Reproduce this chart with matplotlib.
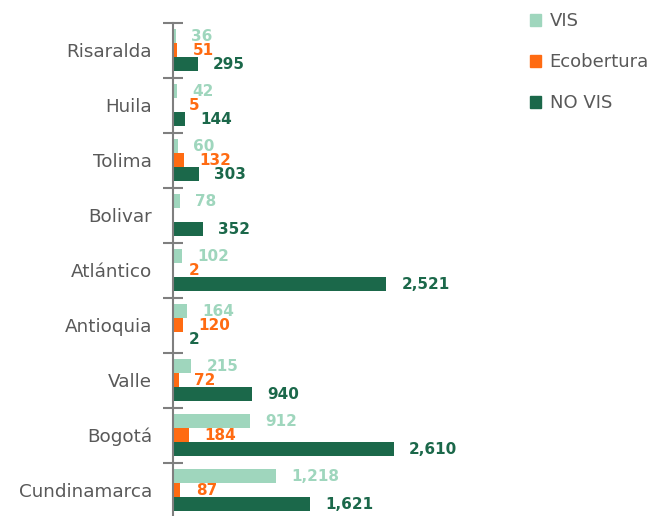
import numpy as np
import matplotlib
matplotlib.use('Agg')
import matplotlib.pyplot as plt
from matplotlib.patches import Patch

plt.rcParams['font.family'] = ['DejaVu Sans']

# data, bottom to top
categories = ['Cundinamarca', 'Bogotá', 'Valle', 'Antioquia', 'Atlántico',
              'Bolivar', 'Tolima', 'Huila', 'Risaralda']
vis = [1218, 912, 215, 164, 102, 78, 60, 42, 36]
ecobertura = [87, 184, 72, 120, 2, None, 132, 5, 51]
no_vis = [1621, 2610, 940, 2, 2521, 352, 303, 144, 295]
series_names = ['VIS', 'Ecobertura', 'NO VIS']

c_vis = '#9fd6bd'
c_eco = '#ff6b12'
c_novis = '#1b684a'
gray = '#7f7f7f'
text_gray = '#595959'

fig = plt.figure(figsize=(6.6, 5.16), dpi=100)
ax = fig.add_axes([173/660, -0.003, 337/660, 0.959])

y = np.arange(len(categories))
h = 0.25
off = 0.255

series = [(vis, c_vis, off), (ecobertura, c_eco, 0), (no_vis, c_novis, -off)]
for vals, col, dy in series:
    for yi, v in zip(y, vals):
        if v is None:
            continue
        ax.barh(yi + dy, v, height=h, color=col)
        ax.annotate(f'{v:,}', xy=(v, yi + dy), xytext=(11, 0),
                    textcoords='offset points', ha='left', va='center',
                    color=col, fontsize=11, fontweight='bold',
                    annotation_clip=False)

ax.set_xlim(0, 337/0.0845)
ax.set_ylim(-0.5, len(categories) - 0.5)

for s in ['top', 'right', 'bottom']:
    ax.spines[s].set_visible(False)
ax.spines['left'].set_color(gray)
ax.spines['left'].set_linewidth(1.5)
ax.set_xticks([])

ax.set_yticks(np.arange(-0.5, len(categories), 1.0))
ax.set_yticklabels([])
ax.tick_params(axis='y', which='major', direction='inout', length=14,
               width=1.5, color=gray)
ax.set_yticks(y, minor=True)
ax.set_yticklabels(categories, minor=True)
ax.tick_params(axis='y', which='minor', length=0, pad=15,
               labelsize=13.2, labelcolor=text_gray)

handles = [Patch(color=c) for c in (c_vis, c_eco, c_novis)]
fig.legend(handles, series_names, loc='upper left',
           bbox_to_anchor=(514/660, 1 + 4/516), frameon=False,
           fontsize=13, labelcolor=text_gray, handlelength=0.62,
           handleheight=0.62, handletextpad=0.45, labelspacing=1.27)

fig.savefig('out.png', dpi=100)
